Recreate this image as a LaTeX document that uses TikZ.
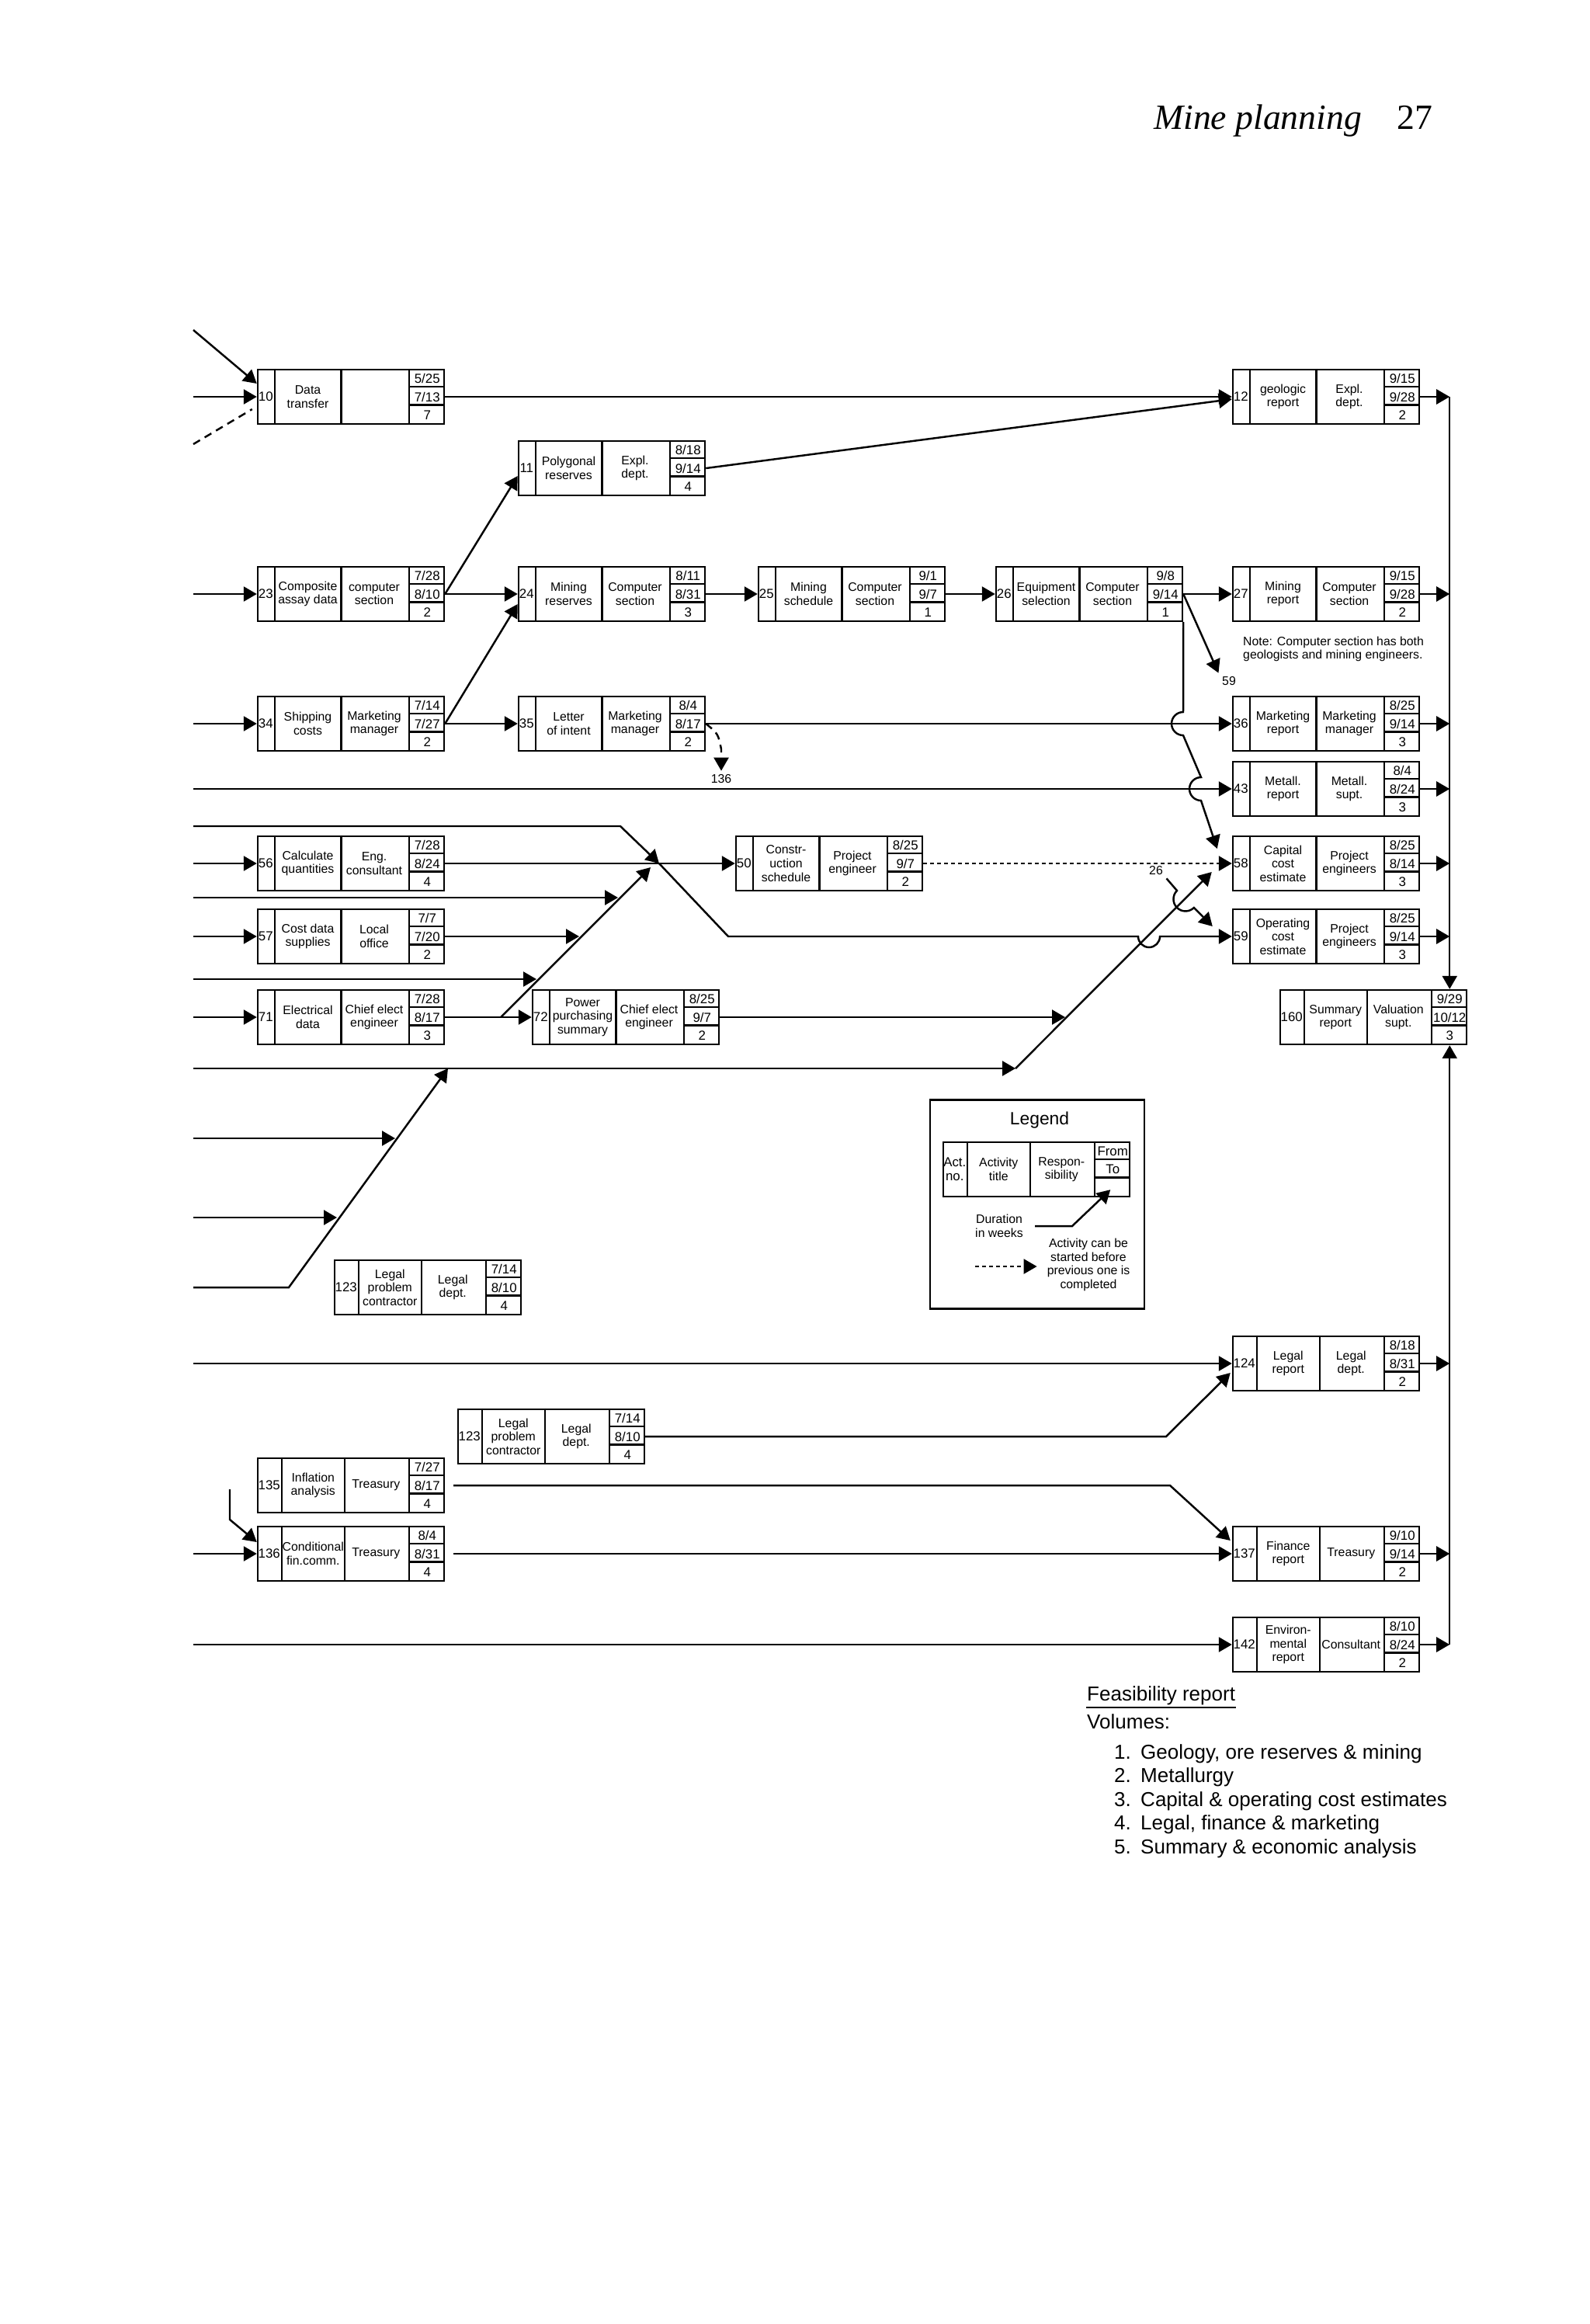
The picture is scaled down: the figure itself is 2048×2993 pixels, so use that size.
\documentclass[tikz,border=0pt]{standalone}
\usepackage{fontspec}
\setmainfont{Liberation Sans}
\newfontfamily\headfont{Liberation Serif}
\usepackage{tikz}
\usetikzlibrary{arrows.meta,calc}
\newcommand{\bfnt}{\fontsize{4.5}{5}\selectfont}
\newcommand{\nfnt}{\fontsize{4.8}{5}\selectfont}

\begin{document}
\begin{tikzpicture}[x=0.1mm,y=-0.1mm,line width=0.7pt,>={Triangle[length=1.7mm,width=1.9mm]},
  abox/.style={draw,minimum width=24mm,minimum height=7mm,inner sep=0pt},
  btxt/.style={font=\bfnt,align=center,inner sep=0pt},
  ntxt/.style={font=\nfnt,align=center,inner sep=0pt},
  lbl/.style={font=\bfnt,inner sep=1pt},
  dsh/.style={dash pattern=on 1mm off 0.7mm},
  dotline/.style={dash pattern=on 0.5mm off 0.4mm}]
\useasboundingbox (0,0) rectangle (2048,2993);
\node[anchor=base west,inner sep=0pt,font=\headfont\fontsize{13}{15}\selectfont] (hdr) at (1485,166) {\itshape Mine planning\quad\upshape 27};

% activity boxes: no. | title | responsibility | from/to/weeks
\foreach \bid/\bnw/\bno/\bx/\by/\btit/\bres/\bfrom/\bto/\bdur in {
  b10/23/10/452/511/{Data\\transfer}/{}/{5/25}/{7/13}/7,
  b11/23/11/788/603/{Polygonal\\reserves}/{Expl.\\dept.}/{8/18}/{9/14}/4,
  b12/23/12/1708/511/{geologic\\report}/{Expl.\\dept.}/{9/15}/{9/28}/2,
  b23/23/23/452/765/{Composite\\assay data}/{computer\\section}/{7/28}/{8/10}/2,
  b24/23/24/788/765/{Mining\\reserves}/{Computer\\section}/{8/11}/{8/31}/3,
  b25/23/25/1097/765/{Mining\\schedule}/{Computer\\section}/{9/1}/{9/7}/1,
  b26/23/26/1403/765/{Equipment\\selection}/{Computer\\section}/{9/8}/{9/14}/1,
  b27/23/27/1708/765/{Mining\\report}/{Computer\\section}/{9/15}/{9/28}/2,
  b34/23/34/452/932/{Shipping\\costs}/{Marketing\\manager}/{7/14}/{7/27}/2,
  b35/23/35/788/932/{Letter\\of intent}/{Marketing\\manager}/{8/4}/{8/17}/2,
  b36/23/36/1708/932/{Marketing\\report}/{Marketing\\manager}/{8/25}/{9/14}/3,
  b43/23/43/1708/1016/{Metall.\\report}/{Metall.\\supt.}/{8/4}/{8/24}/3,
  b50/23/50/1068/1112/{Constr-\\uction\\schedule}/{Project\\engineer}/{8/25}/{9/7}/2,
  b56/23/56/452/1112/{Calculate\\quantities}/{Eng.\\consultant}/{7/28}/{8/24}/4,
  b58/23/58/1708/1112/{Capital\\cost\\estimate}/{Project\\engineers}/{8/25}/{8/14}/3,
  b57/23/57/452/1206/{Cost data\\supplies}/{Local\\office}/{7/7}/{7/20}/2,
  b59/23/59/1708/1206/{Operating\\cost\\estimate}/{Project\\engineers}/{8/25}/{9/14}/3,
  b71/23/71/452/1310/{Electrical\\data}/{Chief elect\\engineer}/{7/28}/{8/17}/3,
  b72/23/72/806/1310/{Power\\purchasing\\summary}/{Chief elect\\engineer}/{8/25}/{9/7}/2,
  b160/32/160/1769/1310/{Summary\\report}/{Valuation\\supt.}/{9/29}/{10/12}/3,
  b123/32/123/551/1658/{Legal\\problem\\contractor}/{Legal\\dept.}/{7/14}/{8/10}/4,
  b124/32/124/1708/1756/{Legal\\report}/{Legal\\dept.}/{8/18}/{8/31}/2,
  b123b/32/123/710/1850/{Legal\\problem\\contractor}/{Legal\\dept.}/{7/14}/{8/10}/4,
  b135/32/135/452/1913/{Inflation\\analysis}/{Treasury}/{7/27}/{8/17}/4,
  b136/32/136/452/2001/{Conditional\\fin.comm.}/{Treasury}/{8/4}/{8/31}/4,
  b137/32/137/1708/2001/{Finance\\report}/{Treasury}/{9/10}/{9/14}/2,
  b142/32/142/1708/2118/{Environ-\\mental\\report}/{Consultant}/{8/10}/{8/24}/2,
  lg/32/{Act.\\no.}/1335/1506/{Activity\\title}/{Respon-\\sibility}/From/To/{}}{
  \pgfmathsetmacro{\tw}{(240-\bnw-46)/2}
  \node[abox] (\bid) at (\bx,\by) {};
  \draw ($(\bid.north west)+(\bnw,0)$) -- ($(\bid.south west)+(\bnw,0)$)
        ($(\bid.north west)+(\bnw+\tw,0)$) -- ($(\bid.south west)+(\bnw+\tw,0)$)
        ($(\bid.north east)+(-46,0)$) -- ($(\bid.south east)+(-46,0)$)
        ($(\bid.north east)+(-46,23.33)$) -- ++(46,0)
        ($(\bid.north east)+(-46,46.67)$) -- ++(46,0);
  \node[ntxt] (\bid-no) at ($(\bid.west)+(\bnw/2,0)$) {\bno};
  \node[btxt] (\bid-ti) at ($(\bid.west)+(\bnw+\tw/2,0)$) {\btit};
  \node[btxt] (\bid-re) at ($(\bid.west)+(\bnw+1.5*\tw,0)$) {\bres};
  \node[ntxt] (\bid-fr) at ($(\bid.east)+(-23,-23.33)$) {\bfrom};
  \node[ntxt] (\bid-to) at ($(\bid.east)+(-23,0)$) {\bto};
  \node[ntxt] (\bid-du) at ($(\bid.east)+(-23,23.33)$) {\bdur};
}

\foreach \yy in {425,511,572,765,932,1016,1064,1112,1156,1206,1261,1310,1376,1466,1568,1658,1756,2001,2118}
  \coordinate (L\yy) at (249,\yy);
\coordinate (L1918) at (296,1918);
\coordinate (J1) at (849,1112);
\coordinate (J2) at (838,1117);
\coordinate (j71) at (645,1310);
\coordinate (t1156) at (796,1156);
\coordinate (t1206) at (746,1206);
\coordinate (t1261) at (691,1261);
\coordinate (c1376) at (1308,1376);
\coordinate (j72) at (1372,1310);
\coordinate (c577) at (577,1376);
\coordinate (t1466) at (509,1466);
\coordinate (t1568) at (434,1568);
\coordinate (bus) at ($(b160.north east)+(-23,0)$);
\coordinate (busb) at ($(b160.south east)+(-23,0)$);

\node[lbl] (l59) at (1583,877) {59};
\node[lbl] (l136) at (929,1003) {136};
\node[lbl] (l26) at (1489,1121) {26};
\node[btxt,anchor=west,align=left] (note) at (1600,836) {Note: Computer section has both\\geologists and mining engineers.};

% left inputs
\draw[->] (L425) -- ($(b10.west)+(0,-17)$);
\draw[->] (L511) -- (b10.west);
\draw[dsh] (L572) -- ($(b10.west)+(-6,16)$);
\draw[->] (L765) -- (b23.west);
\draw[->] (L932) -- (b34.west);
\draw[->] (L1016) -- (b43.west);
\draw[->] (L1112) -- (b56.west);
\draw[->] (L1206) -- (b57.west);
\draw[->] (L1310) -- (b71.west);
\draw[->] (L1756) -- (b124.west);
\draw[->] (L2001) -- (b136.west);
\draw[->] (L2118) -- (b142.west);
\draw[->] (L1918) -- (296,1957) -- ($(b136.west)+(0,-15)$);

\draw[->] (b10.east) -- (b12.west);
\draw[->] (b11.east) -- ($(b12.west)+(0,3)$);
\draw[->] (b23.east) -- ($(b11.west)+(0,10)$);
\draw[->] (b23.east) -- (b24.west);
\draw[->] (b34.east) -- ($(b24.west)+(0,13)$);
\draw[->] (b24.east) -- (b25.west);
\draw[->] (b25.east) -- (b26.west);
\draw[->] (b26.east) -- (b27.west);
\draw[->] (b26.east) -- (l59.north west);
\draw[->] (b26.south east) -- (1524,917) arc[start angle=90,end angle=270,radius=1.5mm]
  -- (1547,1001) arc[start angle=90,end angle=270,radius=1.5mm] -- ($(b58.west)+(-19,-19)$);
\draw[->] (b34.east) -- (b35.west);
\draw[->] (b35.east) -- (b36.west);
\draw[->,dsh] (b35.east) .. controls (925,945) .. (929,965) -- (l136.north);
\draw[->] (b56.east) -- (b50.west);
\draw[->,dotline] (b50.east) -- (b58.west);
\draw[->] (L1064) -- (799,1064) -- (J1);
\draw[->] (J1) -- (938,1206) -- (1466,1206) arc[start angle=180,end angle=360,radius=1.4mm] -- (b59.west);
\draw[->] (j71) -- (J2);
\draw[->] (L1156) -- (t1156);
\draw[->] (b57.east) -- (t1206);
\draw[->] (L1261) -- (t1261);
\draw[->] (b71.east) -- (b72.west);
\draw[->] (b72.east) -- (j72);
\draw[->] (L1376) -- (c1376);
\draw[->] (c1376) -- ($(b58.west)+(-26,11)$);
\draw[->] (l26.south east) -- (1516,1147) arc[start angle=135,end angle=315,radius=1.55mm] -- ($(b59.west)+(-25,-13)$);
\draw[->] (L1466) -- (t1466);
\draw[->] (L1568) -- (t1568);
\draw[->] (L1658) -- (372,1658) -- (c577);
\draw[->] (b123b.east) -- (1502,1850) -- ($(b124.west)+(-2,12)$);
\draw[->] ($(b135.east)+(11,0)$) -- (1507,1913) -- ($(b137.west)+(-2,-17)$);
\draw[->] ($(b136.east)+(11,0)$) -- (b137.west);

% report bus
\foreach \b in {b12,b27,b36,b43,b58,b59,b124,b137,b142}
  \draw[->] (\b.east) -- (\b.east -| bus);
\draw[->] (b12.east -| bus) -- (bus);
\draw[->] (b142.east -| busb) -- (busb);

% legend
\node[draw,minimum width=27.6mm,minimum height=26.9mm,inner sep=0pt] (lgframe) at (1336,1551) {};
\node[font=\fontsize{6.5}{8}\selectfont,inner sep=0pt] (lgtitle) at (1339,1443) {Legend};
\node[btxt] (dur) at (1287,1579) {Duration\\in weeks};
\draw[->,shorten <=1.4mm] (dur.east) -- ++(62,0) -- (lg-du);
\node[btxt] (lgtxt) at (1402,1629) {Activity can be\\started before\\previous one is\\completed};
\coordinate (lgd) at (1256,1631);
\draw[->,dotline] (lgd) -- ($(lgtxt.west)+(-12,2)$);

% feasibility report
\node[anchor=base west,inner sep=0pt,font=\fontsize{7.4}{9}\selectfont] (feas) at (1399,2190) {Feasibility report};
\draw[line width=0.6pt] ($(feas.base west)+(0,9)$) -- ($(feas.base east)+(0,9)$);
\node[anchor=base west,inner sep=0pt,font=\fontsize{7.4}{9}\selectfont] (vol) at (1399,2226) {Volumes:};
\foreach \i/\vtxt in {1/{Geology, ore reserves \& mining},2/Metallurgy,3/{Capital \& operating cost estimates},4/{Legal, finance \& marketing},5/{Summary \& economic analysis}}{
  \pgfmathsetmacro{\vy}{2265+(\i-1)*30.5}
  \node[anchor=base west,inner sep=0pt,font=\fontsize{7.4}{9}\selectfont] (vn\i) at (1434,\vy) {\i.};
  \node[anchor=base west,inner sep=0pt,font=\fontsize{7.4}{9}\selectfont] (v\i) at (1468,\vy) {\vtxt};
}
\end{tikzpicture}
\end{document}
